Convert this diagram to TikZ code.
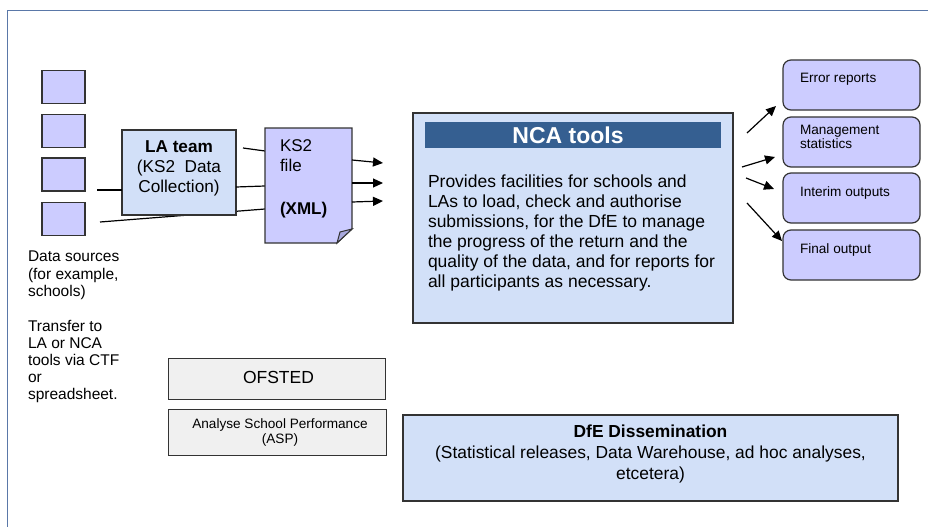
\documentclass[tikz,border=0pt]{standalone}
\usepackage{fontspec}
\setmainfont{Liberation Sans}
\usetikzlibrary{arrows.meta}
\definecolor{lav}{HTML}{CCCCFF}
\definecolor{lavdark}{HTML}{A8A8DC}
\definecolor{lblue}{HTML}{D2E0F8}
\definecolor{gbox}{HTML}{F0F0F0}
\definecolor{titlebar}{HTML}{355F91}
\definecolor{framec}{HTML}{5A78A8}
\definecolor{edge}{HTML}{333333}
\begin{document}
\begin{tikzpicture}[x=1pt,y=-1pt,
  every node/.style={outer sep=0pt},
  boxbase/.style={draw=edge, line width=1.2pt, inner sep=0pt},
  srcbox/.style={boxbase, fill=lav, minimum width=43pt, minimum height=33pt},
  bluebox/.style={boxbase, fill=lblue},
  graybox/.style={boxbase, fill=gbox, line width=1pt},
  outbox/.style={boxbase, fill=lav, rounded corners=8pt, minimum width=137pt, minimum height=50pt},
  txt/.style={inner sep=0pt, text=black},
  conn/.style={line width=1.2pt, draw=black},
  arr/.style={line width=1.2pt, draw=black, -{Triangle[length=10pt,width=9pt]}},
]
\useasboundingbox (0,0) rectangle (928,527);
% frame
\draw[framec, line width=1pt] (928,11) -- (7,11) -- (7,527);

% data source squares
\node[srcbox] (s1) at (63.5,87) {};
\node[srcbox] (s2) at (63.5,131) {};
\node[srcbox] (s3) at (63.5,174.5) {};
\node[srcbox] (s4) at (63.5,219) {};

% KS2 file (placeholder node for anchors)
\node[minimum width=87pt, minimum height=115pt, inner sep=0pt] (file) at (308.5,185.5) {};

% connectors from sources
\coordinate (d1) at (97,190);
\coordinate (d2) at (100,222);
\coordinate (d2e) at (265,209);
\draw[conn] (d2) -- (d2e);

% LA team
\node[bluebox, minimum width=114pt, minimum height=85pt] (la) at (179,172.5) {};
\node[txt, align=center, font=\fontsize{17.2}{20}\selectfont] (latext) at (179,168)
  {\textbf{LA team}\\(KS2\ \ Data\\Collection)};
\draw[conn] (d1) -- (d1 -| la.west);
\coordinate (la1) at (243,148);
\coordinate (la1e) at (265,151);
\draw[conn] (la1) -- (la1e);
\coordinate (la2) at (236,187);
\coordinate (la2e) at (265,186);
\draw[conn] (la2) -- (la2e);

% file shape
\draw[edge, line width=1.2pt, fill=lav] (file.north west) -- (file.north east) -- (352,229) -- (337,243) -- (file.south west) -- cycle;
\draw[edge, line width=1pt, fill=lavdark] (337,243) -- (340,232) -- (352,229) -- cycle;
\node[txt, anchor=north west, align=left, font=\fontsize{17}{20}\selectfont] (ks2) at (280,140) {KS2\\file};
\node[txt, anchor=west, font=\fontsize{17}{20}\selectfont\bfseries] (xml) at (280,210) {(XML)};

% NCA tools
\node[bluebox, minimum width=320pt, minimum height=210pt] (nca) at (573,218) {};
\node[fill=titlebar, minimum width=296pt, minimum height=26pt, inner sep=0pt] (ncatitle) at (573,135) {};
\node[txt, text=white, font=\fontsize{23}{25}\selectfont\bfseries] (ncatitletext) at (568,135.5) {NCA tools};
\node[txt, anchor=north west, align=left, font=\fontsize{17.5}{20}\selectfont] (ncabody) at (428,175)
  {Provides facilities for schools and\\LAs to load, check and authorise\\submissions, for the DfE to manage\\the progress of the return and the\\quality of the data, and for reports for\\all participants as necessary.};

% arrows file -> NCA
\coordinate (f1) at (352,160);
\coordinate (f1e) at (383,163);
\coordinate (f2) at (352,183);
\coordinate (f2e) at (383,183);
\coordinate (f3) at (352,202);
\coordinate (f3e) at (383,201);
\draw[arr] (f1) -- (f1e);
\draw[arr] (f2) -- (f2e);
\draw[arr] (f3) -- (f3e);

% output boxes
\node[outbox] (o1) at (851.5,85) {};
\node[outbox] (o2) at (851.5,142) {};
\node[outbox] (o3) at (851.5,198) {};
\node[outbox] (o4) at (851.5,255) {};
\node[txt, anchor=west, font=\fontsize{13.6}{14}\selectfont] (o1t) at (800,79) {Error reports};
\node[txt, anchor=north west, align=left, font=\fontsize{13.6}{13.8}\selectfont] (o2t) at (800,125) {Management\\statistics};
\node[txt, anchor=west, font=\fontsize{13.6}{14}\selectfont] (o3t) at (800,193) {Interim outputs};
\node[txt, anchor=west, font=\fontsize{13.6}{14}\selectfont] (o4t) at (800,250) {Final output};

% arrows NCA -> outputs
\coordinate (n1) at (747,133);
\coordinate (n1e) at (776,106);
\coordinate (n2) at (742,167);
\coordinate (n2e) at (775,157);
\coordinate (n3) at (746,178);
\coordinate (n3e) at (774,189);
\coordinate (n4) at (747,203);
\coordinate (n4e) at (782,241);
\draw[arr] (n1) -- (n1e);
\draw[arr] (n2) -- (n2e);
\draw[arr] (n3) -- (n3e);
\draw[arr] (n4) -- (n4e);

% left texts
\node[txt, anchor=north west, align=left, font=\fontsize{15.5}{17.5}\selectfont] (dstext) at (28,251)
  {Data sources\\(for example,\\schools)};
\node[txt, anchor=north west, align=left, font=\fontsize{15.5}{16.9}\selectfont] (trtext) at (28,320.5)
  {Transfer to\\LA or NCA\\tools via CTF\\or\\spreadsheet.};

% OFSTED and ASP
\node[graybox, minimum width=217pt, minimum height=41pt] (ofsted) at (276.5,378.5) {};
\node[txt, font=\fontsize{17.5}{20}\selectfont] (ofstedt) at (278.5,377.5) {OFSTED};
\node[graybox, minimum width=218pt, minimum height=46pt] (asp) at (277,432) {};
\node[txt, align=center, font=\fontsize{13.6}{15}\selectfont] (aspt) at (280,432.5) {Analyse School Performance\\(ASP)};

% DfE dissemination
\node[bluebox, minimum width=495pt, minimum height=86pt] (dfe) at (650.5,458) {};
\node[txt, align=center, font=\fontsize{17.4}{21}\selectfont] (dfet) at (650.5,454)
  {\textbf{DfE Dissemination}\\(Statistical releases, Data Warehouse, ad hoc analyses,\\etcetera)};
\end{tikzpicture}
\end{document}
